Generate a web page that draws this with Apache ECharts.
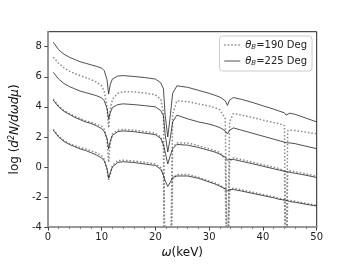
<!DOCTYPE html>
<html>
<head>
<meta charset="utf-8">
<script src="https://cdn.jsdelivr.net/npm/echarts@6/dist/echarts.min.js"></script>
<style>
  html, body { margin: 0; padding: 0; background: #fff; }
  #chart { width: 352px; height: 264px; }
</style>
</head>
<body>
<div id="chart"></div>
<script>
// photon energy (keV)
const omega = [1, 2, 3, 4, 5, 6, 7, 8, 9, 10, 10.5, 11, 11.3, 11.6, 12, 13, 14, 16, 18, 20,
  21, 21.5, 21.8, 22.3, 22.8, 23.2, 24, 26, 28, 30, 31, 32, 33, 33.4, 33.8, 34.5, 36, 38, 40, 42,
  43, 44, 44.3, 44.6, 45, 46, 48, 50]

// theta_B = 225 Deg (solid)
const solid1 = [8.3, 7.8, 7.5, 7.3, 7.15, 7.0, 6.9, 6.8, 6.7, 6.58, 6.4, 5.8, 4.85, 5.5, 5.85, 6.05, 6.08, 6.02, 5.95, 5.85,
  5.6, 5.2, 3.5, 2.0, 3.5, 4.9, 5.4, 5.3, 5.1, 4.9, 4.78, 4.65, 4.4, 4.1, 4.45, 4.62, 4.5, 4.3, 4.07, 3.85,
  3.72, 3.6, 3.45, 3.55, 3.58, 3.5, 3.25, 3.0]
const solid2 = [6.3, 5.85, 5.55, 5.35, 5.2, 5.05, 4.95, 4.85, 4.75, 4.6, 4.4, 3.9, 3.2, 3.6, 3.95, 4.15, 4.2, 4.15, 4.08, 4.0,
  3.75, 3.4, 2.2, 1.0, 2.0, 3.0, 3.45, 3.2, 3.0, 2.85, 2.75, 2.62, 2.4, 2.2, 2.45, 2.6, 2.45, 2.25, 2.05, 1.85,
  1.75, 1.65, 1.55, 1.6, 1.6, 1.55, 1.38, 1.22]
const solid3 = [4.45, 4.0, 3.7, 3.5, 3.3, 3.15, 3.0, 2.9, 2.75, 2.55, 2.35, 1.9, 1.2, 1.7, 2.1, 2.35, 2.4, 2.35, 2.25, 2.15,
  1.9, 1.5, 1.0, 0.2, 0.8, 1.2, 1.5, 1.45, 1.3, 1.1, 1.0, 0.85, 0.65, 0.45, 0.5, 0.5, 0.38, 0.22, 0.05, -0.12,
  -0.2, -0.28, -0.35, -0.32, -0.35, -0.42, -0.55, -0.7]
const solid4 = [2.45, 2.0, 1.7, 1.5, 1.35, 1.2, 1.1, 0.95, 0.8, 0.6, 0.4, -0.1, -0.75, -0.4, 0.0, 0.3, 0.35, 0.3, 0.2, 0.1,
  -0.15, -0.55, -0.9, -1.3, -1.0, -0.7, -0.6, -0.6, -0.75, -1.0, -1.12, -1.28, -1.45, -1.6, -1.5, -1.5, -1.6, -1.75, -1.9, -2.05,
  -2.15, -2.2, -2.28, -2.25, -2.3, -2.35, -2.48, -2.6]

// theta_B = 190 Deg (dotted)
const dotted1 = [7.3, 6.9, 6.6, 6.38, 6.22, 6.08, 5.95, 5.82, 5.65, 5.4, 5.0, 4.0, 2.6, 3.8, 4.5, 4.9, 5.0, 5.0, 4.92, 4.8,
  4.5, 3.6, -8, -8, -8, 3.5, 4.4, 4.35, 4.2, 4.05, 3.95, 3.8, 3.2, -8, 3.0, 3.55, 3.45, 3.3, 3.12, 2.95,
  2.88, 2.75, -8, 2.4, 2.45, 2.42, 2.32, 2.2]
const dotted3 = [4.5, 4.05, 3.75, 3.55, 3.38, 3.22, 3.08, 2.97, 2.85, 2.7, 2.5, 1.8, 0.3, 1.6, 2.2, 2.45, 2.5, 2.45, 2.35, 2.25,
  2.0, 1.3, -8, -8, -8, 1.3, 1.6, 1.6, 1.42, 1.2, 1.1, 0.95, 0.5, -8, 0.4, 0.6, 0.5, 0.32, 0.15, -0.02,
  -0.1, -0.3, -8, -0.3, -0.25, -0.32, -0.45, -0.62]
const dotted4 = [2.5, 2.05, 1.75, 1.55, 1.42, 1.3, 1.2, 1.08, 0.95, 0.75, 0.5, -0.2, -0.85, -0.5, 0.1, 0.42, 0.45, 0.4, 0.3, 0.2,
  -0.05, -0.6, -8, -8, -8, -0.8, -0.5, -0.5, -0.68, -0.95, -1.05, -1.2, -1.5, -8, -1.6, -1.4, -1.52, -1.68, -1.83, -1.98,
  -2.08, -2.2, -8, -2.2, -2.22, -2.28, -2.42, -2.55]

const xTicks = [0, 10, 20, 30, 40, 50]
const yTicks = [-4, -2, 0, 2, 4, 6, 8]

const pairs = ys => omega.map((x, i) => [x, ys[i]])

const chart = echarts.init(document.getElementById('chart'))

const font = 'DejaVu Sans'
const solidLine = { color: '#222', width: 0.8, type: 'solid' }
const dottedLine = { color: '#888', width: 1.5, type: [1.5, 2] }

function solidSeries(ys) {
  return {
    name: 'b225', type: 'line', data: pairs(ys), symbol: 'none', z: 3,
    color: '#222', lineStyle: solidLine
  }
}
function dottedSeries(ys) {
  return {
    name: 'b190', type: 'line', data: pairs(ys), symbol: 'none', z: 2,
    color: '#888', lineStyle: dottedLine
  }
}

const option = {
  animation: false,
  textStyle: { fontFamily: font },
  grid: {
    left: 43.5, right: 35.3, top: 31.7, bottom: 30.3,
    show: true, borderColor: '#222', borderWidth: 1
  },
  legend: {
    data: [
      { name: 'b190', lineStyle: dottedLine },
      { name: 'b225', lineStyle: solidLine }
    ],
    orient: 'vertical',
    right: 40, top: 36,
    itemWidth: 16, itemHeight: 8, itemGap: 5,
    padding: [4, 5, 4, 4],
    borderColor: '#ccc', borderWidth: 1, borderRadius: 3,
    backgroundColor: '#fff',
    itemStyle: { opacity: 0 },
    formatter: n => n === 'b190'
      ? '{i|θ}{s|B}{t|=190 Deg}'
      : '{i|θ}{s|B}{t|=225 Deg}',
    textStyle: {
      fontFamily: font, color: '#222', fontSize: 10,
      rich: {
        i: { fontFamily: font, fontStyle: 'italic', fontSize: 10, color: '#222' },
        s: { fontFamily: font, fontStyle: 'italic', fontSize: 7, color: '#222', padding: [5, 0, 0, 0] },
        t: { fontFamily: font, fontSize: 10, color: '#222' }
      }
    }
  },
  xAxis: {
    type: 'value', min: 0, max: 50, interval: 10,
    name: '{i|ω}{t|(keV)}', nameLocation: 'middle', nameGap: 17,
    nameTextStyle: {
      rich: {
        i: { fontFamily: font, fontStyle: 'italic', fontSize: 12, color: '#111' },
        t: { fontFamily: font, fontSize: 12, color: '#111' }
      }
    },
    axisLine: { onZero: false, lineStyle: { color: '#999', width: 2 } },
    axisTick: { length: 3.5, lineStyle: { color: '#444', width: 1 }, customValues: xTicks },
    minorTick: { show: true, splitNumber: 5, length: 2, lineStyle: { color: '#666', width: 0.8 } },
    axisLabel: { fontFamily: font, fontSize: 10, color: '#222', margin: 5, customValues: xTicks },
    splitLine: { show: false }
  },
  yAxis: {
    type: 'value', min: -4, max: 9, interval: 2,
    name: '{t|log (}{i|d}{p|2}{i|N/dωdμ}{t|)}', nameLocation: 'middle', nameGap: 23, nameRotate: 90,
    nameTextStyle: {
      rich: {
        t: { fontFamily: font, fontSize: 12, color: '#111' },
        i: { fontFamily: font, fontStyle: 'italic', fontSize: 12, color: '#111' },
        p: { fontFamily: font, fontStyle: 'italic', fontSize: 8, color: '#111', padding: [0, 0, 6, 0] }
      }
    },
    axisLine: { onZero: false, lineStyle: { color: '#999', width: 2 } },
    axisTick: { length: 3.5, lineStyle: { color: '#444', width: 1 }, customValues: yTicks },
    axisLabel: { fontFamily: font, fontSize: 10, color: '#222', margin: 6, customValues: yTicks },
    splitLine: { show: false }
  },
  series: [
    dottedSeries(dotted1),
    dottedSeries(dotted3),
    dottedSeries(dotted4),
    solidSeries(solid1),
    solidSeries(solid2),
    solidSeries(solid3),
    solidSeries(solid4)
  ]
}

chart.setOption(option)
</script>
</body>
</html>
